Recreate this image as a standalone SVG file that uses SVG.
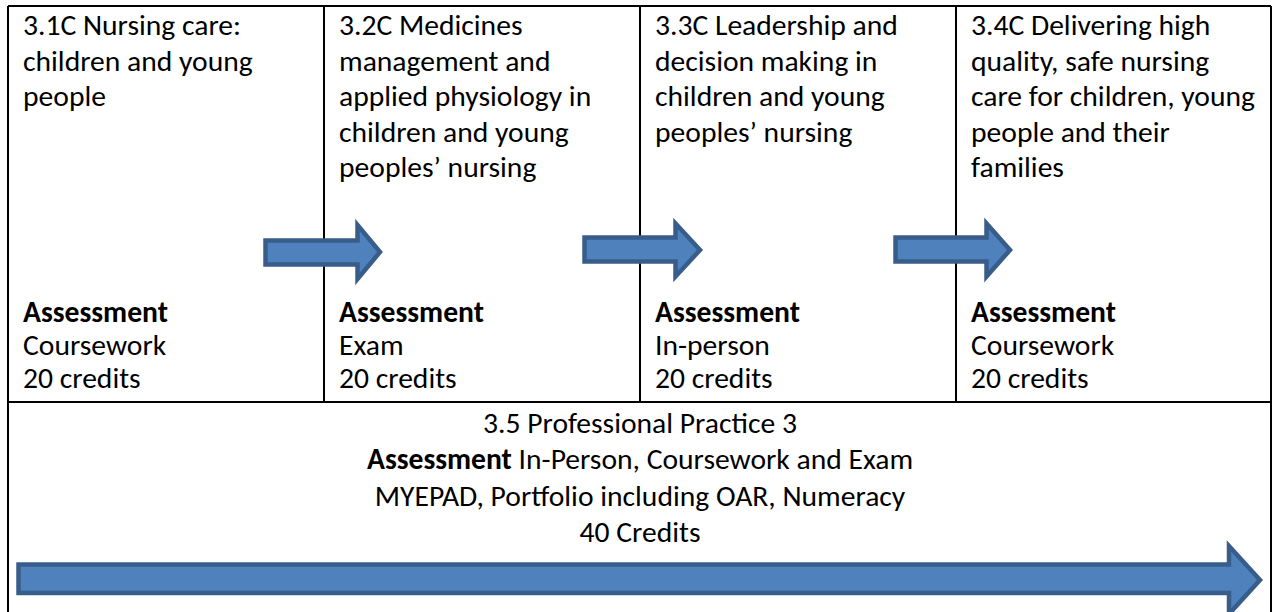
<svg xmlns="http://www.w3.org/2000/svg" width="1278" height="612" viewBox="0 0 1278 612">
<style>
.t{font-family:Carlito,Lato,"Liberation Sans",sans-serif;font-size:29.6px;fill:#000}
.b{font-weight:bold}
.c{text-anchor:middle}
.grid{stroke:#000;stroke-width:2;fill:none}
.arr{fill:#4F81BD;stroke:#385D8A;stroke-width:4.5;stroke-linejoin:miter}
</style>
<rect width="1278" height="612" fill="#fff"/>
<g id="table-grid">
<path class="grid" d="M8,6 H1271 M8,6 V612 M1271,6 V612 M8,402 H1271 M324,6 V402 M640,6 V402 M956,6 V402"/>
</g>
<g id="node-3-1C">
<text class="t" x="23" y="35">3.1C Nursing care:</text>
<text class="t" x="23" y="70.5">children and young</text>
<text class="t" x="23" y="106">people</text>
<text class="t b" x="23" y="322">Assessment</text>
<text class="t" x="23" y="355">Coursework</text>
<text class="t" x="23" y="388">20 credits</text>
</g>
<g id="node-3-2C">
<text class="t" x="339" y="35">3.2C Medicines</text>
<text class="t" x="339" y="70.5">management and</text>
<text class="t" x="339" y="106">applied physiology in</text>
<text class="t" x="339" y="141.5">children and young</text>
<text class="t" x="339" y="177">peoples’ nursing</text>
<text class="t b" x="339" y="322">Assessment</text>
<text class="t" x="339" y="355">Exam</text>
<text class="t" x="339" y="388">20 credits</text>
</g>
<g id="node-3-3C">
<text class="t" x="655" y="35">3.3C Leadership and</text>
<text class="t" x="655" y="70.5">decision making in</text>
<text class="t" x="655" y="106">children and young</text>
<text class="t" x="655" y="141.5">peoples’ nursing</text>
<text class="t b" x="655" y="322">Assessment</text>
<text class="t" x="655" y="355">In-person</text>
<text class="t" x="655" y="388">20 credits</text>
</g>
<g id="node-3-4C">
<text class="t" x="971" y="35">3.4C Delivering high</text>
<text class="t" x="971" y="70.5">quality, safe nursing</text>
<text class="t" x="971" y="106">care for children, young</text>
<text class="t" x="971" y="141.5">people and their</text>
<text class="t" x="971" y="177">families</text>
<text class="t b" x="971" y="322">Assessment</text>
<text class="t" x="971" y="355">Coursework</text>
<text class="t" x="971" y="388">20 credits</text>
</g>
<g id="node-3-5">
<text class="t c" x="640" y="433">3.5 Professional Practice 3</text>
<text class="t c" x="640" y="469"><tspan class="b">Assessment</tspan> In-Person, Coursework and Exam</text>
<text class="t c" x="640" y="505.5">MYEPAD, Portfolio including OAR, Numeracy</text>
<text class="t c" x="640" y="542">40 Credits</text>
</g>
<g id="connectors">
<polygon class="arr" points="265.5,240.5 357.5,240.5 357.5,225 380,252 357.5,279 357.5,264.5 265.5,264.5"/>
<polygon class="arr" points="584.5,237.5 675.5,237.5 675.5,223.5 700,250 675.5,276.5 675.5,261.5 584.5,261.5"/>
<polygon class="arr" points="895.5,237.5 986.5,237.5 986.5,223.5 1010,250 986.5,276.5 986.5,261.5 895.5,261.5"/>
<polygon class="arr" points="18.5,564.5 1229,564.5 1229,546 1260,580 1229,614 1229,593 18.5,593"/>
</g>
</svg>
